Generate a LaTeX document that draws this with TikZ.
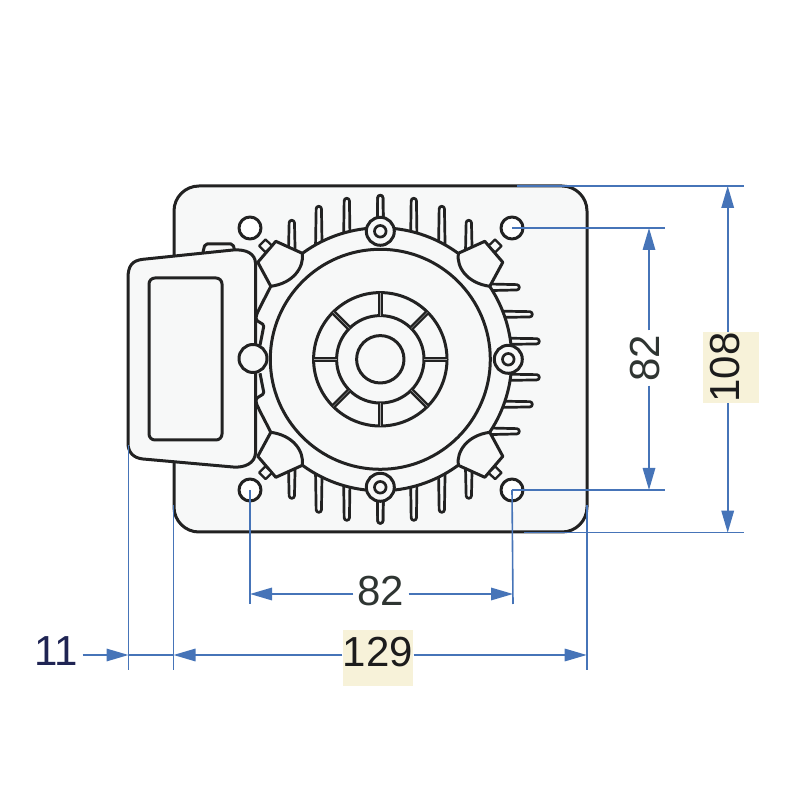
\documentclass[tikz,border=0pt]{standalone}
\usepackage{fontspec}
\setmainfont{Liberation Sans}
\usetikzlibrary{arrows.meta}
\definecolor{platefill}{HTML}{F7F8F8}
\definecolor{outline}{HTML}{222222}
\definecolor{dimblue}{HTML}{4674B8}
\definecolor{hilite}{HTML}{F7F2D9}
\definecolor{navytext}{HTML}{1F2453}
\definecolor{greytext}{HTML}{2F3532}
\definecolor{blacktext}{HTML}{1C1C1C}

\begin{document}
\begin{tikzpicture}[x=1pt, y=1pt,
        part/.style={draw=outline, fill=platefill, line width=3pt, line join=round},
        thinpart/.style={part, line width=2.3pt},
        extline/.style={dimblue, line width=1.6pt},
        dimarrow/.style={dimblue, line width=1.6pt, -{Triangle[length=22pt, width=12.5pt]}},
        spoke/.style={draw=outline, line width=2.3pt, double=gray!70, double distance=0.4pt},
        dimlabel/.style={font=\fontsize{42}{44}\selectfont, text=greytext, inner sep=4pt},
        hilitelabel/.style={font=\fontsize{42}{44}\selectfont, text=blacktext, fill=hilite,
            inner xsep=0.3pt, inner ysep=6pt, text height=30.2pt, text depth=13.7pt}]
      \useasboundingbox (0,0) rectangle (800,800);

      % plate
      \draw[part, rounded corners=25pt] (174,268) rectangle (587,614);
      \draw[part, rounded corners=2pt] (203,548) -- (205,556) -- (233,556) -- (235,548);

      % hub
      \begin{scope}[shift={(380.3,440.7)}]
        \foreach \d/\t in {88.5/139, 61.5/153, 33.5/161, 0/164} {
          \foreach \s in {1,-1} {
            \draw[part, line width=2.7pt, rounded corners=2.5pt] (-\d-3.5,\s*100) -- (-\d-2.6,\s*\t) -- (-\d+2.6,\s*\t) -- (-\d+3.5,\s*100);
            \draw[part, line width=2.7pt, rounded corners=2.5pt] (\d-3.5,\s*100) -- (\d-2.6,\s*\t) -- (\d+2.6,\s*\t) -- (\d+3.5,\s*100);
          }
        }
        \foreach \d/\t in {72/139, 45/152, 18/159} {
          \foreach \s in {1,-1} {
            \draw[part, line width=2.7pt, rounded corners=2.5pt] (100,\s*\d-3.5) -- (\t,\s*\d-2.6) -- (\t,\s*\d+2.6) -- (100,\s*\d+3.5);
          }
        }
        \fill[platefill] (0,0) circle [radius=131];
        \draw[part, fill=none] (-33.7:131.5) arc [start angle=-33.7, end angle=33.7, radius=131.5];
        \draw[part, fill=none] (54:131.5) arc [start angle=54, end angle=126, radius=131.5];
        \draw[part, fill=none] (-54:131.5) arc [start angle=-54, end angle=-126, radius=131.5];
        \foreach \s in {1,-1} {
          \draw[part, fill=none, rounded corners=1.5pt] (-109.5,\s*73) .. controls (-115,\s*62) and (-120,\s*53) .. (-124,\s*44) -- (-124.3,\s*39.3) -- (-116.3,\s*34.3) -- (-120.3,\s*14);
        }

        % corners
        \foreach \sx in {1,-1} {
          \foreach \sy in {1,-1} {
            \begin{scope}[xscale=\sx, yscale=\sy]
              \draw[part] (-78,106) -- (-104.5,118) -- (-122.5,97) -- (-109.5,73) .. controls (-87,76) and (-76,92) .. cycle;
              \draw[thinpart] (-114.8,119.8) -- (-108.3,113.6) -- (-114.8,107) -- (-121.2,113.4) -- cycle;
            \end{scope}
          }
        }

        % rings
        \draw[part] (0,0) circle [radius=110];
        \draw[part] (0,0) circle [radius=66.7];
        \draw[part] (0,0) circle [radius=43.7];
        \draw[part] (0,0) circle [radius=23.7];
        \foreach \a in {0,45,...,315} {
          \draw[spoke] (\a:43.7) -- (\a:66.7);
        }
        \foreach \a in {90,0,-90} {
          \draw[part] (\a:128) circle [radius=14];
          \draw[part, line width=2.7pt] (\a:128) circle [radius=5.8];
        }
      \end{scope}

      % cover
      \draw[part] (128,522) .. controls (128,534) and (132,539.5) .. (143,540.7) -- (233,550)
        .. controls (247,551) and (255,546) .. (255.5,537) -- (255.5,347)
        .. controls (255,337) and (245,332) .. (233,333) -- (143,341)
        .. controls (133,342) and (128,348) .. (128,357) -- cycle;
      \draw[part, rounded corners=6pt] (149,360) rectangle (222,522);
      \draw[part] (253,441.5) circle [radius=14];

      % holes
      \foreach \x/\y/\n in {250/572/tl, 512/572/tr, 250/310/bl, 512/310/br} {
        \draw[part, fill=white] (\x,\y) circle [radius=11];
        \coordinate (hole\n) at (\x,\y);
      }

      % dimension labels
      \node[dimlabel] (lblbottom) at (381,209) {82};
      \node[dimlabel, rotate=90] (lblside) at (645.5,442) {82};
      \node[hilitelabel] (lblwidth) at (378,141.7) {129};
      \node[hilitelabel, rotate=90] (lblheight) at (731.2,432.5) {108};
      \node[dimlabel, text=navytext] (lbloffset) at (56.5,148.5) {11};

      \coordinate (extbl) at (250,196);
      \coordinate (extbr) at (513,196);
      \coordinate (exttr) at (665,572);
      \coordinate (extrb) at (665,310);
      \coordinate (h1a) at (517,614);
      \coordinate (h1b) at (744,614);
      \coordinate (h2a) at (524,267.3);
      \coordinate (h2b) at (744,267.3);
      \coordinate (v1a) at (128.5,355);
      \coordinate (v1b) at (128.5,130);
      \coordinate (v2a) at (173.5,295);
      \coordinate (v2b) at (173.5,130);
      \coordinate (v3a) at (586.7,295);
      \coordinate (v3b) at (586.7,130);

      % extension lines
      \draw[extline] (holebl) -- (extbl);
      \draw[extline] (holebr) -- (extbr);
      \draw[extline] (holetr) -- (exttr);
      \draw[extline] (holebr) -- (extrb);
      \draw[extline] (h1a) -- (h1b);
      \draw[extline] (h2a) -- (h2b);
      \draw[extline] (v1a) -- (v1b);
      \draw[extline] (v2a) -- (v2b);
      \draw[extline] (v3a) -- (v3b);

      % dimension arrows
      \coordinate (arrbl) at (250,206);
      \coordinate (arrbr) at (513,206);
      \coordinate (arrst) at (649,572);
      \coordinate (arrsb) at (649,310);
      \coordinate (arrwl) at (173.5,145);
      \coordinate (arrwr) at (586.7,145);
      \coordinate (arrol) at (128.5,145);
      \coordinate (arrht) at (727.7,614);
      \coordinate (arrhb) at (727.7,267.3);
      \draw[dimarrow] (lblbottom.west |- arrbl) -- (arrbl);
      \draw[dimarrow] (lblbottom.east |- arrbr) -- (arrbr);
      \draw[dimarrow] (lblside.east -| arrst) -- (arrst);
      \draw[dimarrow] (lblside.west -| arrsb) -- (arrsb);
      \draw[dimarrow] (lblwidth.west |- arrwl) -- (arrwl);
      \draw[dimarrow] (lblwidth.east |- arrwr) -- (arrwr);
      \draw[dimarrow] (lblheight.east -| arrht) -- (arrht);
      \draw[dimarrow] (lblheight.west -| arrhb) -- (arrhb);
      \draw[dimarrow] (lbloffset.east |- arrol) -- (arrol);
      \draw[extline] (arrol) -- (arrwl);
    \end{tikzpicture}
\end{document}
